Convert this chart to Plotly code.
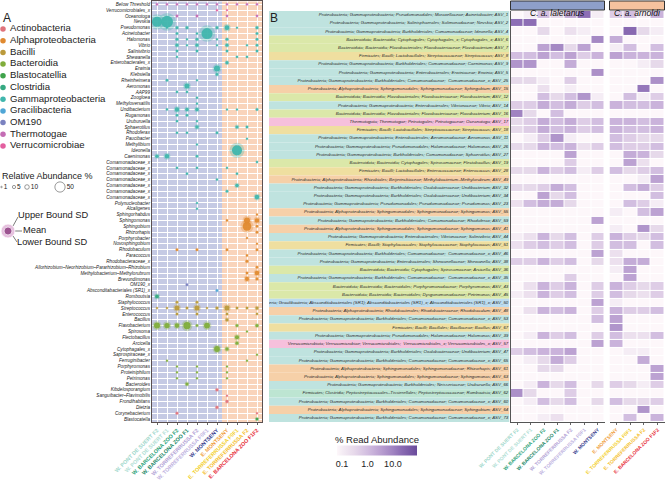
import numpy as np
import plotly.graph_objects as go

W, H = 666, 480
FONT = "Liberation Sans, Arial, sans-serif"

# ---------------- data ----------------
classes = ["Actinobacteria", "Alphaproteobacteria", "Bacilli", "Bacteroidia", "Blastocatellia",
           "Clostridia", "Gammaproteobacteria", "Gracilibacteria", "OM190", "Thermotogae",
           "Verrucomicrobiae"]
class_colors = ["#e0737b", "#e08a30", "#bb9a3c", "#80ad3c", "#3fa34b", "#36a982",
                "#40b6ad", "#4fa6d6", "#7b82c0", "#c46db4", "#e35f9f"]
band_colors = {"Gammaproteobacteria": "#bfe3df", "Alphaproteobacteria": "#f6d0a8",
               "Bacteroidia": "#dbe8a9", "Bacilli": "#efdfa0", "Thermotogae": "#f6c0dc",
               "Verrucomicrobiae": "#f6c0dc", "Gracilibacteria": "#bcdcef", "Clostridia": "#bde5d2"}
below_color = "#c46cb6"

sites = ["W. PONT DE SUERT F2", "W. PONT DE SUERT F1", "W. BARCELONA ZOO F2", "W. BARCELONA ZOO F1",
         "W. TORREFERRUSSA F2", "W. TORREFERRUSSA F0F1", "W. MONTSENY", "E. MONTSENY",
         "E. TORREFERRUSSA F0F1", "E. TORREFERRUSSA F2", "E. BARCELONA ZOO F1F2"]
site_colors = ["#9fd8cc", "#b2e0d5", "#2ea37a", "#1f8a6a", "#b3a3d6", "#c0b3df", "#3a3f8f",
               "#f0a040", "#f3cf2c", "#f5c12f", "#e8323c"]
n_west = 7
host_groups = ["C. a. laletanus", "C. a. arnoldi"]

genera = ["Below Threshold", "Verrucomicrobiales_x", "Oceanotoga", "Nevskia", "Pseudomonas",
          "Acinetobacter", "Halomonas", "Vibrio", "Salinivibrio", "Shewanella", "Enterobacterales_x",
          "Erwinia", "Klebsiella", "Rheinheimera", "Aeromonas", "AAP99", "Zoogloea",
          "Methyloversatilis", "Undibacterium", "Rugamonas", "Uruburuella", "Sphaerotilus",
          "Rhodoferax", "Paucibacter", "Methylibium", "Ideonella", "Caenimonas",
          "Comamonadaceae_x", "Comamonadaceae_x", "Comamonadaceae_x", "Comamonadaceae_x",
          "Comamonadaceae_x", "Comamonadaceae_x", "Comamonadaceae_x", "Polynucleobacter",
          "Alcaligenes", "Sphingorhabdus", "Sphingomonas", "Sphingobium", "Rhizorhapis",
          "Porphyrobacter", "Novosphingobium", "Rhodobaculum", "Paracoccus", "Rhodobacteraceae_x",
          "Allorhizobium–Neorhizobium–Pararhizobium–Rhizobium", "Methylobacterium–Methylorubrum",
          "Brevundimonas", "OM190_x", "Absconditabacteriales (SR1)_x", "Romboutsia",
          "Staphylococcus", "Streptococcus", "Enterococcus", "Bacillus", "Flavobacterium",
          "Spirosoma", "Flectobacillus", "Arcicella", "Cytophagales_x", "Saprospiraceae_x",
          "Ferruginibacter", "Porphyromonas", "Proteiniphilum", "Petrimonas", "Bacteroides",
          "Kibdelosporangium", "Sanguibacter–Flavimobilis", "Frondihabitans", "Dietzia",
          "Corynebacterium", "Blastocatella"]
genus_class = (["Below", "Verrucomicrobiae", "Thermotogae"] + ["Gammaproteobacteria"] * 33 +
               ["Alphaproteobacteria"] * 12 + ["OM190", "Gracilibacteria", "Clostridia"] +
               ["Bacilli"] * 4 + ["Bacteroidia"] * 11 + ["Actinobacteria"] * 5 + ["Blastocatellia"])

rel_abund = [
    [2.5, 2.5, 2.5, 2.5, 2.5, 2.5, 2.5, 2.5, 2.5, 2.5, 2.5],
    [0, 0, 0, 0, 0, 0, 2, 1.5, 0, 0, 0],
    [0, 0, 3, 0, 3, 0, 0, 2.5, 0, 0, 2.5],
    [48, 68, 0, 0, 0, 0, 0, 0, 0, 0, 0],
    [0, 2, 4, 4, 0, 0, 4, 11, 2, 0, 4],
    [0, 0, 3, 0, 2.5, 58, 0, 0, 0, 0, 3],
    [0, 0, 4, 2, 4, 0, 2, 4, 0, 0, 3],
    [0, 0, 5, 2, 5, 0, 2, 5, 0, 2, 3],
    [0, 0, 3, 0, 3, 0, 0, 3, 0, 0, 3],
    [0, 0, 2, 0, 0, 0, 0, 0, 2.5, 2.5, 0],
    [0, 0, 0, 0, 0, 0, 0, 5, 0, 0, 0],
    [0, 0, 0, 0, 0, 0, 17, 0, 0, 0, 0],
    [0, 0, 0, 0, 0, 0, 4, 0, 0, 0, 0],
    [0, 3, 0, 0, 2, 0, 0, 0, 0, 0, 0],
    [0, 0, 0, 12, 0, 0, 0, 0, 0, 0, 0],
    [0, 0, 2.5, 2.5, 0, 0, 0, 0, 0, 0, 0],
    [0, 0, 0, 0, 2.5, 0, 0, 0, 0, 0, 0],
    [0, 0, 0, 0, 2, 0, 0, 0, 0, 0, 0],
    [0, 2.5, 9, 6, 6, 0, 0, 2, 2, 0, 3],
    [0, 0, 3, 3, 0, 0, 0, 0, 0, 0, 0],
    [0, 0, 2.5, 0, 2, 0, 0, 0, 0, 0, 0],
    [0, 0, 0, 0, 6, 0, 0, 0, 5, 3, 0],
    [0, 0, 2.5, 2.5, 0, 0, 3, 0, 0, 0, 0],
    [0, 0, 0, 0, 0, 0, 0, 0, 0, 2, 0],
    [0, 0, 0, 0, 2, 0, 0, 0, 0, 0, 0],
    [0, 0, 0, 0, 0, 0, 0, 0, 48, 0, 0],
    [6, 10, 0, 0, 3, 0, 0, 0, 0, 0, 0],
    [0, 0, 0, 0, 0, 0, 0, 0, 0, 0, 2.5],
    [0, 0, 2.5, 0, 2.5, 0, 0, 2, 0, 0, 0],
    [0, 0, 0, 2.5, 0, 0, 0, 0, 2.5, 0, 0],
    [0, 0, 0, 0, 0, 0, 2.5, 0, 0, 0, 0],
    [0, 0, 0, 0, 0, 0, 0, 0, 6, 0, 0],
    [0, 0, 0, 0, 0, 0, 0, 3, 0, 0, 0],
    [0, 0, 0, 0, 0, 0, 0, 0, 0, 0, 10],
    [0, 0, 0, 0, 2, 0, 0, 0, 0, 0, 0],
    [0, 0, 0, 0, 2, 0, 0, 0, 0, 0, 0],
    [0, 0, 0, 0, 0, 0, 0, 0, 0, 0, 2],
    [0, 0, 0, 0, 0, 0, 0, 2.5, 0, 17, 10],
    [0, 0, 0, 0, 0, 0, 0, 0, 0, 36, 3],
    [0, 0, 0, 0, 0, 0, 0, 0, 0, 0, 3],
    [0, 0, 0, 0, 0, 0, 0, 0, 0, 2, 0],
    [0, 0, 0, 0, 0, 0, 0, 0, 0, 0, 2],
    [0, 0, 3, 0, 3, 0, 0, 3, 0, 0, 3],
    [0, 0, 0, 0, 0, 0, 0, 0, 0, 2.5, 0],
    [0, 0, 0, 0, 0, 0, 0, 0, 0, 4, 0],
    [0, 0, 0, 0, 0, 0, 0, 0, 0, 0, 3],
    [0, 0, 0, 0, 0, 0, 0, 0, 0, 3, 10],
    [0, 0, 0, 0, 0, 0, 0, 0, 0, 8, 4],
    [0, 0, 0, 3, 0, 0, 0, 0, 0, 0, 0],
    [0, 0, 0, 0, 0, 0, 3, 0, 0, 0, 0],
    [7, 0, 0, 0, 0, 0, 0, 0, 0, 0, 0],
    [0, 0, 3, 0, 3, 0, 0, 0, 0, 0, 0],
    [2, 2, 12, 3, 12, 2, 4, 12, 3, 3, 5],
    [0, 0, 3, 0, 3, 0, 0, 3, 0, 0, 2.5],
    [0, 0, 0, 0, 0, 0, 0, 5, 0, 0, 0],
    [17, 14, 10, 25, 3, 16, 0, 0, 4, 0, 5],
    [0, 0, 0, 0, 0, 0, 0, 0, 0, 2, 0],
    [0, 0, 0, 0, 0, 0, 0, 0, 8, 0, 0],
    [0, 0, 0, 0, 0, 0, 0, 0, 5, 0, 0],
    [0, 0, 0, 0, 0, 0, 16, 6, 0, 0, 0],
    [0, 0, 0, 0, 0, 0, 0, 0, 0, 0, 2],
    [0, 2, 0, 0, 0, 0, 0, 0, 0, 2, 0],
    [0, 0, 2, 0, 2, 0, 0, 2, 0, 0, 0],
    [0, 0, 2, 0, 2, 0, 0, 2, 0, 0, 0],
    [0, 0, 2, 0, 2, 0, 0, 2, 0, 0, 0],
    [0, 0, 0, 5, 0, 0, 0, 0, 0, 0, 0],
    [0, 0, 0, 0, 0, 0, 4, 0, 0, 0, 0],
    [0, 0, 0, 0, 0, 0, 0, 2, 0, 0, 0],
    [0, 0, 0, 0, 0, 0, 0, 4, 0, 0, 0],
    [0, 0, 0, 0, 0, 0, 4, 0, 0, 0, 0],
    [0, 0, 3, 0, 0, 0, 0, 0, 0, 0, 2],
    [0, 0, 0, 0, 0, 0, 0, 0, 0, 0, 4],
]

asv_taxonomy = [
    ("Proteobacteria", "Gammaproteobacteria", "Pseudomonadales", "Moraxellaceae", "Acinetobacter", "ASV_1"),
    ("Proteobacteria", "Gammaproteobacteria", "Salinisphaerales", "Solimonadaceae", "Nevskia", "ASV_2"),
    ("Proteobacteria", "Gammaproteobacteria", "Burkholderiales", "Comamonadaceae", "Ideonella", "ASV_4"),
    ("Bacteroidota", "Bacteroidia", "Cytophagales", "Cytophagales_x", "Cytophagales_x", "ASV_6"),
    ("Bacteroidota", "Bacteroidia", "Flavobacteriales", "Flavobacteriaceae", "Flavobacterium", "ASV_7"),
    ("Firmicutes", "Bacilli", "Lactobacillales", "Streptococcaceae", "Streptococcus", "ASV_8"),
    ("Proteobacteria", "Gammaproteobacteria", "Burkholderiales", "Comamonadaceae", "Caenimonas", "ASV_9"),
    ("Proteobacteria", "Gammaproteobacteria", "Enterobacterales", "Erwiniaceae", "Erwinia", "ASV_5"),
    ("Proteobacteria", "Gammaproteobacteria", "Burkholderiales", "Comamonadaceae", " Comamonadaceae_x", "ASV_25"),
    ("Proteobacteria", "Alphaproteobacteria", "Sphingomonadales", "Sphingomonadaceae", "Sphingobium", "ASV_15"),
    ("Bacteroidota", "Bacteroidia", "Flavobacteriales", "Flavobacteriaceae", "Flavobacterium", "ASV_12"),
    ("Proteobacteria", "Gammaproteobacteria", "Enterobacterales", "Vibrionaceae", "Vibrio", "ASV_14"),
    ("Bacteroidota", "Bacteroidia", "Flavobacteriales", "Flavobacteriaceae", "Flavobacterium", "ASV_16"),
    ("Thermotogota", "Thermotogae", "Petrotogales", "Petrotogaceae", "Oceanotoga", "ASV_17"),
    ("Firmicutes", "Bacilli", "Lactobacillales", "Streptococcaceae", "Streptococcus", "ASV_18"),
    ("Proteobacteria", "Gammaproteobacteria", "Enterobacterales", "Aeromonadaceae", "Aeromonas", "ASV_11"),
    ("Proteobacteria", "Gammaproteobacteria", "Pseudomonadales", "Halomonadaceae", "Halomonas", "ASV_26"),
    ("Proteobacteria", "Gammaproteobacteria", "Burkholderiales", "Comamonadaceae", "Sphaerotilus", "ASV_27"),
    ("Bacteroidota", "Bacteroidia", "Cytophagales", "Spirosomaceae", "Flectobacillus", "ASV_19"),
    ("Firmicutes", "Bacilli", "Lactobacillales", "Enterococcaceae", "Enterococcus", "ASV_28"),
    ("Proteobacteria", "Alphaproteobacteria", "Rhizobiales", "Beijerinckiaceae", "Methylobacterium–Methylorubrum", "ASV_49"),
    ("Proteobacteria", "Gammaproteobacteria", "Burkholderiales", "Oxalobacteraceae", "Undibacterium", "ASV_32"),
    ("Proteobacteria", "Gammaproteobacteria", "Burkholderiales", "Oxalobacteraceae", "Undibacterium", "ASV_34"),
    ("Proteobacteria", "Gammaproteobacteria", "Pseudomonadales", "Pseudomonadaceae", "Pseudomonas", "ASV_23"),
    ("Proteobacteria", "Alphaproteobacteria", "Sphingomonadales", "Sphingomonadaceae", "Sphingomonas", "ASV_55"),
    ("Proteobacteria", "Gammaproteobacteria", "Burkholderiales", "Comamonadaceae", "Rhodoferax", "ASV_59"),
    ("Proteobacteria", "Alphaproteobacteria", "Sphingomonadales", "Sphingomonadaceae", "Sphingomonas", "ASV_41"),
    ("Proteobacteria", "Gammaproteobacteria", "Enterobacterales", "Vibrionaceae", "Salinivibrio", "ASV_44"),
    ("Firmicutes", "Bacilli", "Staphylococcales", "Staphylococcaceae", "Staphylococcus", "ASV_51"),
    ("Proteobacteria", "Gammaproteobacteria", "Burkholderiales", "Comamonadaceae", " Comamonadaceae_x", "ASV_46"),
    ("Proteobacteria", "Gammaproteobacteria", "Enterobacterales", "Shewanellaceae", "Shewanella", "ASV_38"),
    ("Bacteroidota", "Bacteroidia", "Cytophagales", "Spirosomaceae", "Arcicella", "ASV_36"),
    ("Proteobacteria", "Gammaproteobacteria", "Burkholderiales", "Comamonadaceae", " Comamonadaceae_x", "ASV_35"),
    ("Bacteroidota", "Bacteroidia", "Bacteroidales", "Porphyromonadaceae", "Porphyromonas", "ASV_43"),
    ("Bacteroidota", "Bacteroidia", "Bacteroidales", "Dysgonomonadaceae", "Petrimonas", "ASV_45"),
    ("Patescibacteria", "Gracilibacteria", "Absconditabacteriales (SR1)", "Absconditabacteriales (SR1)_x", "Absconditabacteriales (SR1)_x", "ASV_50"),
    ("Proteobacteria", "Alphaproteobacteria", "Rhodobacterales", "Rhodobacteraceae", "Rhodobaculum", "ASV_48"),
    ("Proteobacteria", "Gammaproteobacteria", "Burkholderiales", "Comamonadaceae", "Comamonadaceae_x", "ASV_53"),
    ("Firmicutes", "Bacilli", "Bacillales", "Bacillaceae", "Bacillus", "ASV_67"),
    ("Proteobacteria", "Gammaproteobacteria", "Pseudomonadales", "Halomonadaceae", "Halomonas", "ASV_39"),
    ("Verrucomicrobiota", "Verrucomicrobiae", "Verrucomicrobiales", " Verrucomicrobiales_x", "Verrucomicrobiales_x", "ASV_57"),
    ("Proteobacteria", "Gammaproteobacteria", "Burkholderiales", "Oxalobacteraceae", "Undibacterium", "ASV_47"),
    ("Proteobacteria", "Gammaproteobacteria", "Burkholderiales", "Comamonadaceae", "Comamonadaceae_x", "ASV_65"),
    ("Proteobacteria", "Alphaproteobacteria", "Sphingomonadales", "Sphingomonadaceae", "Rhizorhapis", "ASV_61"),
    ("Proteobacteria", "Alphaproteobacteria", "Sphingomonadales", "Sphingomonadaceae", "Sphingomonas", "ASV_63"),
    ("Proteobacteria", "Gammaproteobacteria", "Burkholderiales", "Neisseriaceae", "Uruburuella", "ASV_66"),
    ("Firmicutes", "Clostridia", "Peptostreptococcales–Tissierellales", "Peptostreptococcaceae", "Romboutsia", "ASV_62"),
    ("Proteobacteria", "Gammaproteobacteria", "Burkholderiales", "Comamonadaceae", "Comamonadaceae_x", "ASV_60"),
    ("Proteobacteria", "Alphaproteobacteria", "Sphingomonadales", "Sphingomonadaceae", "Sphingobium", "ASV_64"),
    ("Proteobacteria", "Gammaproteobacteria", "Burkholderiales", "Comamonadaceae", "Comamonadaceae_x", "ASV_73"),
]

read_abund = [
    [0.05, 0.1, 1, 0.3, 2, 20, 0.1, 0.5, 1, 0.1, 1.5],
    [20, 20, 0, 0, 0, 0, 0, 0, 0, 0, 0],
    [0, 0, 0.3, 0.05, 0.2, 0.1, 0, 0, 25, 0.3, 0.1],
    [0, 0, 0, 0, 0, 0, 8, 2, 0, 0, 0],
    [0, 0, 3, 8, 0.3, 3, 0.05, 0.1, 1, 0, 1],
    [1, 1, 3, 1, 3, 0.5, 1.5, 3, 1.5, 1.5, 1.5],
    [5, 5, 0.05, 0, 2, 0, 0, 0, 0, 0.1, 0.3],
    [0, 0, 0, 0, 0.05, 0, 6, 0, 0, 0, 0],
    [0.3, 0.3, 0.1, 0, 0.5, 0.05, 0, 0, 0, 0, 6],
    [0, 0, 0.2, 0, 0.1, 0, 0, 0, 0, 15, 0.05],
    [0, 0, 1, 0.3, 1, 5, 0.1, 0, 1, 0.1, 0.5],
    [0.5, 0.5, 2, 1, 2, 0.5, 1, 1.5, 1, 1, 1.5],
    [10, 0.3, 0, 1, 0, 0, 0, 0, 0, 0, 0],
    [0.3, 0.5, 2, 1, 2, 0.5, 1, 1.5, 1.5, 1, 1.5],
    [0.3, 0.5, 2, 1, 1.5, 0.5, 1, 1.5, 1, 1, 1.5],
    [0.05, 0.1, 0.5, 5, 0.1, 0, 0.05, 1, 0.5, 0.3, 0.3],
    [0.3, 0.3, 1.5, 1, 1.5, 0.2, 0.5, 1, 0.5, 0.5, 1],
    [0, 0, 0, 0, 3, 0, 0, 0, 2, 1.5, 0.3],
    [0, 0, 0, 0, 0.5, 0, 0, 0, 3, 0.2, 0],
    [0.3, 0.3, 1.5, 0.5, 1, 0.1, 0.5, 1, 0.3, 0.5, 1],
    [0, 0, 0, 0, 0, 0, 0, 0, 0, 0.1, 3],
    [0.3, 0.3, 0.5, 2, 1, 0, 0, 0, 1, 2, 0.5],
    [0.05, 0.05, 3, 0.3, 1, 0, 0, 0, 0, 0, 1],
    [0.2, 1, 2, 2, 0.3, 0, 0, 0, 1, 0.5, 0.1],
    [0, 0, 0, 0, 0, 0, 0, 0.1, 0, 1, 3],
    [0, 0, 0, 0, 0, 0, 3, 0, 0, 0, 0],
    [0, 0, 0, 0, 0, 0, 0, 0.1, 0.05, 5, 0.3],
    [0.1, 0.2, 1.5, 0.3, 1, 0.05, 0.5, 1.5, 0.5, 0.3, 1],
    [0.2, 0.5, 1, 0.5, 1, 0.05, 0.5, 1, 1, 0, 1],
    [0, 0, 0, 0, 0, 0, 3, 0.2, 0, 0, 0],
    [0.5, 0.5, 1.5, 0.5, 1, 0, 0.3, 0.2, 2, 2, 0],
    [0, 0, 0, 0, 0, 0, 0, 0.1, 3, 0, 0],
    [0, 0, 0, 0, 0.5, 0, 0, 0, 3, 0, 0],
    [0.05, 0.2, 1.5, 0.5, 1.5, 0.05, 0.5, 1.5, 0.5, 0.3, 0.5],
    [0.1, 0.2, 1.5, 0.5, 1, 0.05, 0.5, 1, 0.3, 0.2, 0.5],
    [0, 0, 0, 0, 0, 0, 3, 0.1, 0, 0, 0],
    [0.05, 0.2, 1.5, 1, 1.5, 0.05, 0.5, 1.5, 0.5, 0.5, 1],
    [0, 0, 0, 0, 0, 0, 1, 3, 0, 0, 0],
    [0, 0, 0, 0, 0, 0, 0, 5, 0, 0, 0],
    [0.05, 0.1, 1.5, 0.5, 1, 0, 0.5, 1, 0.2, 0.2, 1],
    [0, 0, 0, 0, 0, 0, 3, 1.5, 0, 0, 0],
    [0.5, 1, 1.5, 1.5, 3, 0, 0, 0, 0.1, 0.1, 0],
    [0, 0.1, 0.3, 2, 0.5, 0, 0, 0, 0, 2, 0],
    [0, 0, 0.3, 0.3, 0, 0, 0, 0, 0, 0, 3],
    [0, 0, 0, 0, 0, 0, 0, 0, 0, 0, 3],
    [0, 0.1, 1.5, 0.3, 1, 0, 0.3, 0.5, 0.3, 0.1, 0.5],
    [6, 0.3, 0, 0, 0.5, 0, 0, 0, 0, 0, 0],
    [0, 0.1, 1, 0.3, 1, 0, 0.3, 1, 0.3, 0.3, 0.5],
    [0, 0, 0, 0, 0, 0, 0, 0, 0, 5, 0],
    [0, 0.05, 0.1, 0.2, 0.05, 0, 0, 0, 1, 0, 1.5],
]

size_legend_vals = [1, 5, 10, 50]

# ---------------- helpers ----------------
def px_x(p):
    return p / W

def px_y(p):
    return 1 - p / H

def diam(v):
    return 1.45 * np.sqrt(v)

color_of = dict(zip(classes, class_colors))
color_of["Below"] = below_color

site_ticks = [f'<span style="color:{c}"><b>{s}</b></span>' for s, c in zip(sites, site_colors)]

fig = go.Figure()

# ---------------- Panel A: bubbles ----------------
ra = np.array(rel_abund, dtype=float)
group_order = ["Below"] + classes
for g in group_order:
    xs, ys, vs = [], [], []
    for i, gc in enumerate(genus_class):
        if gc != g:
            continue
        for j in range(len(sites)):
            if ra[i, j] > 0:
                xs.append(j); ys.append(i); vs.append(ra[i, j])
    if not xs:
        continue
    d = diam(np.array(vs))
    fig.add_trace(go.Scatter(x=xs, y=ys, mode="markers", xaxis="x", yaxis="y",
                             marker=dict(size=d * 1.5, color=color_of[g], opacity=0.3, line_width=0),
                             hoverinfo="skip", showlegend=False))
    fig.add_trace(go.Scatter(x=xs, y=ys, mode="markers", xaxis="x", yaxis="y",
                             marker=dict(size=d, color=color_of[g], opacity=0.95, line_width=0),
                             showlegend=False))

# ---------------- Panel B: heatmap ----------------
zmin, zmax = np.log10(0.063), np.log10(89)
hz = np.log10(np.maximum(np.array(read_abund, dtype=float), 0.063))
cscale = [[0, "#fdf7fa"], [0.07, "#f4ecf4"], [0.22, "#e6d8ea"], [0.38, "#d2bee0"],
          [0.53, "#bca2d2"], [0.7, "#a083c1"], [0.8, "#8c6db4"], [1, "#6a4b9b"]]
nrow = len(asv_taxonomy)
fig.add_trace(go.Heatmap(z=hz[:, :n_west], x=list(range(n_west)), y=list(range(nrow)),
                         xaxis="x2", yaxis="y2", zmin=zmin, zmax=zmax, colorscale=cscale,
                         xgap=1, ygap=1,
                         colorbar=dict(orientation="h", x=px_x(377), xanchor="center",
                                       y=px_y(450), yanchor="middle", len=80, lenmode="pixels",
                                       thickness=10, thicknessmode="pixels", xpad=0, ypad=0,
                                       tickvals=[-1, 0, 1], ticktext=["0.1", "1.0", "10.0"],
                                       ticks="", outlinewidth=0,
                                       tickfont=dict(size=9, color="#222", family=FONT),
                                       title=dict(text="% Read Abundance", side="top",
                                                  font=dict(size=9.5, color="#222", family=FONT)))))
fig.add_trace(go.Heatmap(z=hz[:, n_west:], x=list(range(len(sites) - n_west)), y=list(range(nrow)),
                         xaxis="x3", yaxis="y2", zmin=zmin, zmax=zmax, colorscale=cscale,
                         xgap=1, ygap=1, showscale=False))

# taxonomy bands + labels
band_cols = [band_colors[t[1]] for t in asv_taxonomy]
labels = ["; ".join(t) for t in asv_taxonomy]
fig.add_trace(go.Bar(x=[1] * nrow, y=list(range(nrow)), orientation="h", width=1,
                     marker=dict(color=band_cols, line_width=0), xaxis="x4", yaxis="y2",
                     hoverinfo="skip", showlegend=False))
fig.add_trace(go.Scatter(x=[0.995] * nrow, y=list(range(nrow)), mode="text", text=labels,
                         textposition="middle left", xaxis="x4", yaxis="y2",
                         textfont=dict(size=4.4, color="#2a2a2a", family=FONT, style="italic"),
                         hoverinfo="skip", showlegend=False))

# ---------------- Left legends ----------------
leg_y = [29 + 11.7 * i for i in range(len(classes))]
fig.add_trace(go.Scatter(x=[3] * len(classes), y=leg_y, mode="markers", xaxis="x5", yaxis="y5",
                         marker=dict(size=5.5, color=class_colors), hoverinfo="skip", showlegend=False))
fig.add_trace(go.Scatter(x=[10] * len(classes), y=leg_y, mode="text", text=classes,
                         textposition="middle right", xaxis="x5", yaxis="y5",
                         textfont=dict(size=9.6, color="#222", family=FONT),
                         hoverinfo="skip", showlegend=False))
size_key_x = [1.5, 14, 27, 60]
fig.add_trace(go.Scatter(x=size_key_x, y=[187] * 4, mode="markers", xaxis="x5", yaxis="y5",
                         marker=dict(size=[diam(v) for v in size_legend_vals], color="rgba(0,0,0,0)",
                                     line=dict(color="#333", width=0.7)),
                         hoverinfo="skip", showlegend=False))
fig.add_trace(go.Scatter(x=[k + diam(v) / 2 + 1.5 for k, v in zip(size_key_x, size_legend_vals)],
                         y=[187] * 4, mode="text", text=[str(v) for v in size_legend_vals],
                         textposition="middle right", xaxis="x5", yaxis="y5",
                         textfont=dict(size=6.5, color="#222", family=FONT),
                         hoverinfo="skip", showlegend=False))
# mean / SD key
fig.add_trace(go.Scatter(x=[13, 18, None, 15, 22, None, 13, 17],
                         y=[226, 217, None, 231, 231, None, 236, 242], mode="lines",
                         xaxis="x5", yaxis="y5", line=dict(color="#444", width=0.7),
                         hoverinfo="skip", showlegend=False))
fig.add_trace(go.Scatter(x=[8, 8], y=[231, 231], mode="markers", xaxis="x5", yaxis="y5",
                         marker=dict(size=[14, 8], color=["#dca6d1", "#7d2670"],
                                     line=dict(color=["#ffffff", "#ffffff"], width=[0.8, 0.8])),
                         hoverinfo="skip", showlegend=False))
fig.add_trace(go.Scatter(x=[18, 23, 17], y=[216, 231, 243], mode="text",
                         text=["Upper Bound SD", "Mean", "Lower Bound SD"],
                         textposition="middle right", xaxis="x5", yaxis="y5",
                         textfont=dict(size=9.3, color="#222", family=FONT),
                         hoverinfo="skip", showlegend=False))

# ---------------- Layout ----------------
line_col = "#5b5050"
yA = [px_y(422), px_y(1.4)]
yB = [px_y(422.1), px_y(10.9)]
fig.update_layout(
    template="none",
    width=W, height=H, autosize=False, margin=dict(l=0, r=0, t=0, b=0, pad=0),
    paper_bgcolor="white", plot_bgcolor="white", showlegend=False,
    font=dict(family=FONT, color="#222"),
    xaxis=dict(domain=[px_x(152), px_x(262)], anchor="y", range=[-0.5, len(sites) - 0.5],
               tickvals=list(range(len(sites))), ticktext=site_ticks, tickangle=-45,
               tickfont=dict(size=5.4, family=FONT), showgrid=True, gridcolor="white",
               gridwidth=0.8, zeroline=False, showline=True, mirror=True, linecolor=line_col,
               linewidth=1.2, ticks="outside", ticklen=2, tickcolor="#666", automargin=False),
    yaxis=dict(domain=yA, anchor="x", range=[len(genera) - 0.5, -0.5],
               tickvals=list(range(len(genera))), ticktext=genera,
               tickfont=dict(size=4.6, family=FONT, style="italic", color="#222"),
               showgrid=True, gridcolor="white", gridwidth=0.8, zeroline=False,
               showline=True, mirror=True, linecolor=line_col, linewidth=1.2, ticks="",
               automargin=False),
    xaxis2=dict(domain=[px_x(510.5), px_x(604.5)], anchor="y2", range=[-0.5, n_west - 0.5],
                tickvals=list(range(n_west)), ticktext=site_ticks[:n_west], tickangle=-45,
                tickfont=dict(size=4.9, family=FONT), showgrid=False, zeroline=False,
                showline=True, linecolor="#555", linewidth=1, ticks="outside", ticklen=2,
                tickcolor="#666", automargin=False),
    xaxis3=dict(domain=[px_x(609.5), px_x(664.5)], anchor="y2",
                range=[-0.5, len(sites) - n_west - 0.5],
                tickvals=list(range(len(sites) - n_west)), ticktext=site_ticks[n_west:],
                tickangle=-45, tickfont=dict(size=4.9, family=FONT), showgrid=False,
                zeroline=False, showline=True, linecolor="#555", linewidth=1, ticks="outside",
                ticklen=2, tickcolor="#666", automargin=False),
    yaxis2=dict(domain=yB, anchor="x2", range=[nrow - 0.5, -0.5], showticklabels=False,
                showgrid=False, zeroline=False, showline=True, linecolor="#555", linewidth=1,
                ticks="", automargin=False),
    xaxis4=dict(domain=[px_x(269), px_x(509.5)], anchor="y2", range=[0, 1], visible=False,
                fixedrange=True, automargin=False),
    xaxis5=dict(domain=[0, px_x(133.2)], anchor="y5", range=[0, 133.2], visible=False,
                automargin=False),
    yaxis5=dict(domain=[0, 1], anchor="x5", range=[H, 0], visible=False, automargin=False),
    shapes=[
        dict(type="rect", xref="x", yref="y domain", x0=-0.5, x1=n_west - 0.5, y0=0, y1=1,
             fillcolor="#c5cae4", line_width=0, layer="below"),
        dict(type="rect", xref="x", yref="y domain", x0=n_west - 0.5, x1=len(sites) - 0.5,
             y0=0, y1=1, fillcolor="#f9d4bb", line_width=0, layer="below"),
        dict(type="rect", xref="x2 domain", yref="paper", x0=0, x1=1, y0=px_y(10), y1=px_y(1),
             fillcolor="#8e9fc9", line=dict(color="#333", width=1)),
        dict(type="rect", xref="x3 domain", yref="paper", x0=0, x1=1, y0=px_y(10), y1=px_y(1),
             fillcolor="#f5c29e", line=dict(color="#333", width=1)),
    ],
    annotations=[
        dict(text=f"<i>{host_groups[0]}</i>", xref="x2 domain", yref="paper", x=0.5,
             y=px_y(5.5), showarrow=False, font=dict(size=8.5, color="#111", family=FONT)),
        dict(text=f"<i>{host_groups[1]}</i>", xref="x3 domain", yref="paper", x=0.5,
             y=px_y(5.5), showarrow=False, font=dict(size=8.5, color="#111", family=FONT)),
        dict(text="A", xref="paper", yref="paper", x=px_x(1), y=px_y(9), xanchor="left",
             showarrow=False, font=dict(size=12, color="#222", family=FONT)),
        dict(text="B", xref="paper", yref="paper", x=px_x(268), y=px_y(9), xanchor="left",
             showarrow=False, font=dict(size=12, color="#222", family=FONT)),
        dict(text="Relative Abundance %", xref="paper", yref="paper", x=0, y=px_y(176),
             xanchor="left", showarrow=False, font=dict(size=9, color="#222", family=FONT)),
    ],
)

fig.write_html("out.html")
